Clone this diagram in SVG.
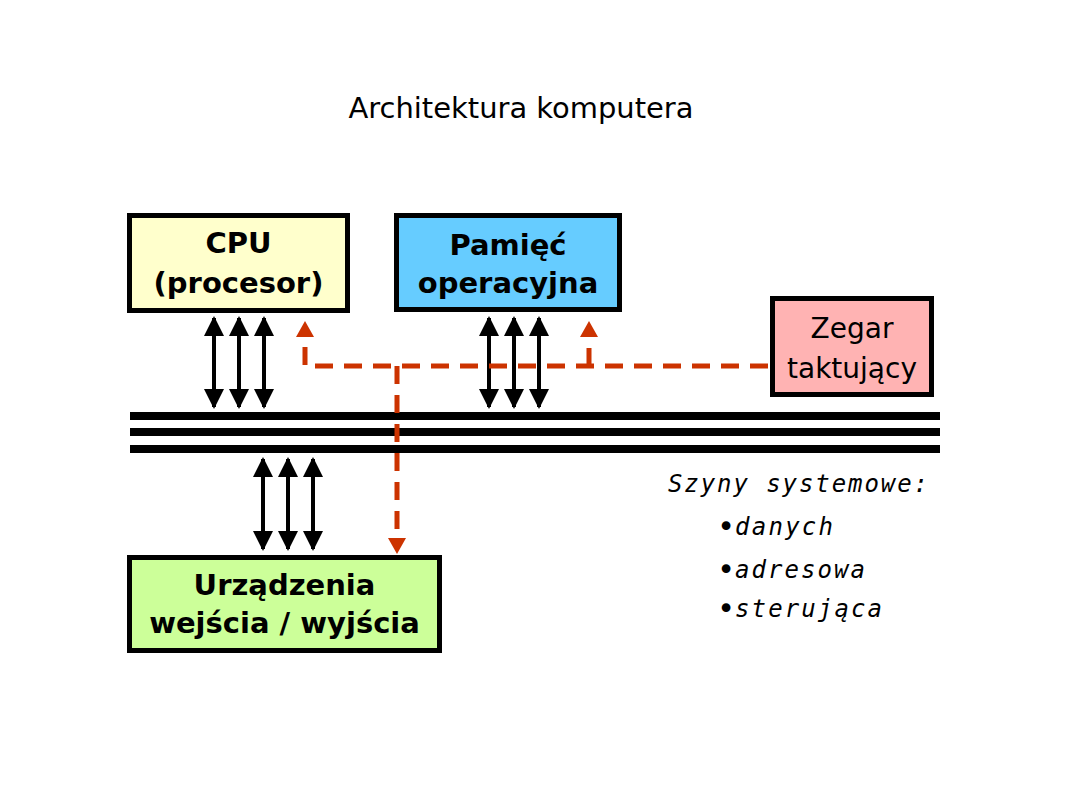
<svg xmlns="http://www.w3.org/2000/svg" width="1080" height="810" viewBox="0 0 1080 810">
<defs>
<style>
.box{stroke:#000;stroke-width:5}
.bt{font-family:"DejaVu Sans",Verdana,sans-serif;font-weight:bold;font-size:29px;fill:#000;text-anchor:middle}
.rt{font-family:"DejaVu Sans",Verdana,sans-serif;font-size:28px;fill:#000;text-anchor:middle}
.bul{font-family:"DejaVu Sans",Verdana,sans-serif;font-size:30px;fill:#000;text-anchor:middle}
.mono{font-family:"DejaVu Sans Mono",monospace;font-style:italic;font-size:24px;fill:#000}
.bus{stroke:#000;stroke-width:8}
.dbl{stroke:#000;stroke-width:4;fill:none;marker-start:url(#bh);marker-end:url(#bh)}
.clk{stroke:#CC3300;stroke-width:5;fill:none;stroke-dasharray:18 11}
</style>
<marker id="bh" markerUnits="userSpaceOnUse" viewBox="0 0 20 20" refX="18" refY="10" markerWidth="20" markerHeight="20" orient="auto-start-reverse">
<path d="M0,0 L20,10 L0,20 Z" fill="#000"/>
</marker>
<marker id="rh" markerUnits="userSpaceOnUse" viewBox="0 0 16 18" refX="2" refY="9" markerWidth="16" markerHeight="18" orient="auto">
<path d="M0,0 L16,9 L0,18 Z" fill="#CC3300"/>
</marker>
</defs>
<rect width="1080" height="810" fill="#fff"/>
<text x="521" y="118" class="rt" textLength="345" lengthAdjust="spacingAndGlyphs">Architektura komputera</text>

<g id="connectors">
<line class="bus" x1="130" y1="416" x2="940" y2="416"/>
<line class="bus" x1="130" y1="432" x2="940" y2="432"/>
<line class="bus" x1="130" y1="449" x2="940" y2="449"/>
<line class="dbl" x1="214" y1="318" x2="214" y2="407"/>
<line class="dbl" x1="239" y1="318" x2="239" y2="407"/>
<line class="dbl" x1="264" y1="318" x2="264" y2="407"/>
<line class="dbl" x1="489" y1="318" x2="489" y2="407"/>
<line class="dbl" x1="514" y1="318" x2="514" y2="407"/>
<line class="dbl" x1="539" y1="318" x2="539" y2="407"/>
<line class="dbl" x1="263" y1="459" x2="263" y2="549"/>
<line class="dbl" x1="288" y1="459" x2="288" y2="549"/>
<line class="dbl" x1="313" y1="459" x2="313" y2="549"/>
<path class="clk" d="M768,366 L305,366 L305,335" marker-end="url(#rh)"/>
<path class="clk" d="M589,366 L589,335" marker-end="url(#rh)"/>
<path class="clk" d="M397,366 L397,540" marker-end="url(#rh)"/>
</g>

<g id="cpu">
<rect class="box" x="129.5" y="215.5" width="218" height="95" fill="#FFFFCC"/>
<text class="bt" x="238.5" y="253">CPU</text>
<text class="bt" x="238.5" y="293">(procesor)</text>
</g>
<g id="memory">
<rect class="box" x="396.5" y="215.5" width="223" height="94" fill="#66CCFF"/>
<text class="bt" x="508" y="255">Pamięć</text>
<text class="bt" x="508" y="293">operacyjna</text>
</g>
<g id="clock">
<rect class="box" x="772.5" y="298.5" width="159" height="96" fill="#FFB3B3"/>
<text class="rt" x="852" y="338">Zegar</text>
<text class="rt" x="852" y="378">taktujący</text>
</g>
<g id="io">
<rect class="box" x="129.5" y="557.5" width="310" height="93" fill="#CCFF99"/>
<text class="bt" x="284.5" y="595">Urządzenia</text>
<text class="bt" x="284.5" y="633">wejścia / wyjścia</text>
</g>
<g id="legend">
<text class="mono" x="668" y="492" textLength="260" lengthAdjust="spacing">Szyny systemowe:</text>
<text class="bul" x="726" y="537">•</text>
<text class="mono" x="735" y="535" textLength="98" lengthAdjust="spacing">danych</text>
<text class="bul" x="726" y="580">•</text>
<text class="mono" x="735" y="578" textLength="130" lengthAdjust="spacing">adresowa</text>
<text class="bul" x="726" y="619">•</text>
<text class="mono" x="735" y="617" textLength="147" lengthAdjust="spacing">sterująca</text>
</g>
</svg>
